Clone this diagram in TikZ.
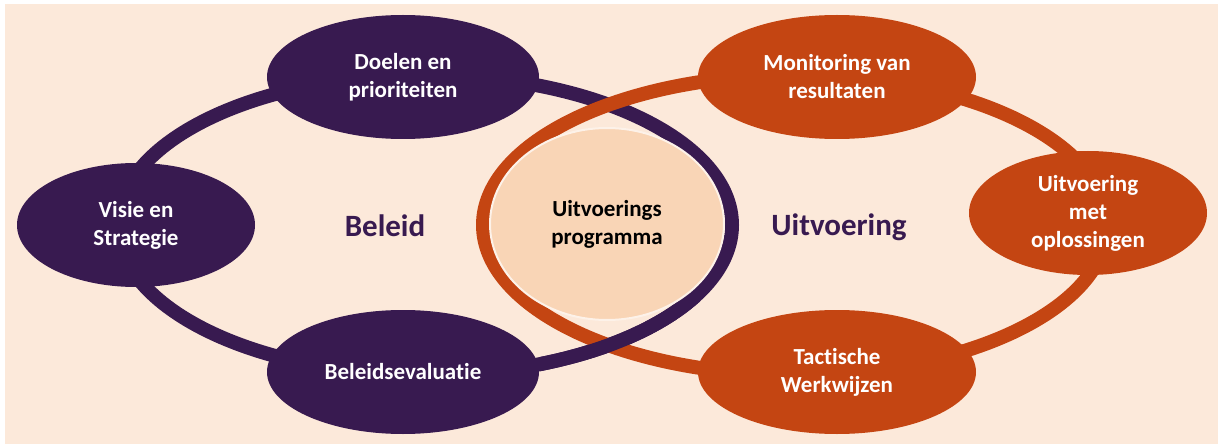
\documentclass[tikz,border=0pt]{standalone}
\usepackage{fontspec}
\setmainfont[Ligatures=NoCommon]{Carlito}
\usepackage{tikz}
\usetikzlibrary{shapes.geometric}
\definecolor{beleidpaars}{HTML}{381A50}
\definecolor{uitvoeroranje}{HTML}{C44512}
\definecolor{achtergrond}{HTML}{FCE9DA}
\definecolor{kernvlak}{HTML}{F9D5B6}
\tikzset{stap/.style={ellipse,minimum height=62pt,inner sep=0pt,align=center,text=white,
font=\bfseries\fontsize{11.5}{14}\selectfont},
beleidstap/.style={stap,fill=beleidpaars},uitvoerstap/.style={stap,fill=uitvoeroranje}}
\tikzstyle{ring}  = [line width=7pt]
\tikzstyle{titel} = [font=\bfseries\fontsize{15.5}{18}\selectfont,text=beleidpaars]

\begin{document}
\begin{tikzpicture}[x=0.5pt,y=-0.5pt,
			kern/.style={ellipse,fill=kernvlak,draw=achtergrond!60!white,line width=1pt,
				minimum width=117pt,minimum height=96pt,inner sep=0pt,align=center,
				font=\bfseries\fontsize{11.5}{14}\selectfont}]

		\useasboundingbox (0,0) rectangle (1222,444);
		\fill[white] (0,0) rectangle (1222,444);
		\fill[achtergrond] (5,4) rectangle (1218,444);

		\draw[ring,beleidpaars] (425,225) ellipse [x radius=153.5pt,y radius=75pt];
		\draw[ring,uitvoeroranje] (795,225) ellipse [x radius=156pt,y radius=75pt];
		\begin{scope}
			\clip (540,290) rectangle (700,444);
			\draw[ring,beleidpaars] (425,225) ellipse [x radius=153.5pt,y radius=75pt];
		\end{scope}

		\node[kern] (programma) at (607,224) {Uitvoerings\\programma};

		\node[beleidstap,minimum width=136pt] (doelen) at (403,77) {Doelen en\\prioriteiten};
		\node[beleidstap,minimum width=119pt] (visie) at (136,225) {Visie en\\Strategie};
		\node[beleidstap,minimum width=136pt] (evaluatie) at (403,372) {Beleidsevaluatie};
		\node[uitvoerstap,minimum width=139pt] (monitoring) at (837,77) {Monitoring van\\resultaten};
		\node[uitvoerstap,minimum width=119pt] (oplossingen) at (1088,213) {Uitvoering\\met\\oplossingen};
		\node[uitvoerstap,minimum width=139pt] (tactiek) at (837,372) {Tactische\\Werkwijzen};

		\node[titel] (beleid) at (385,226) {Beleid};
		\node[titel] (uitvoering) at (839,227) {Uitvoering};
	\end{tikzpicture}
\end{document}
